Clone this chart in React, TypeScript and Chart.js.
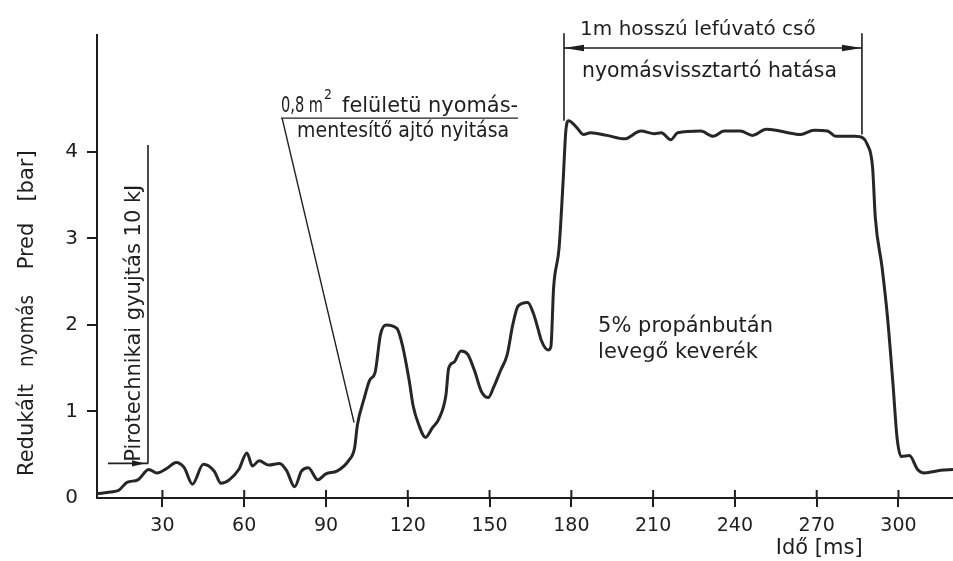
import React, { useEffect, useRef } from "react";
import { Chart, registerables } from "chart.js";

Chart.register(...registerables);

// ---- data (time in ms, reduced pressure in bar) ----
const timeMs = [6, 11, 14, 17, 21, 25, 28, 32, 35, 38, 41, 45, 49, 51.5, 54.5, 58, 61, 63, 65.5, 69, 73, 75.5, 78.5, 81, 83.5, 87, 90, 94, 98.5, 100.5, 101.5, 104, 106, 108, 110, 112, 116, 118, 120.5, 122, 124, 126.5, 129, 131.5, 134, 135, 137, 139.5, 142, 144.5, 147, 149.5, 151.5, 154, 156.5, 158.5, 160.5, 164, 166, 168, 169, 171.5, 172.5, 173.5, 175.5, 177, 178, 179, 182, 184.5, 187, 193, 199.5, 205.5, 210.5, 213, 216.5, 219, 227.5, 232, 236, 242, 246.5, 251.5, 255, 259.5, 264, 269, 274, 277, 284, 287, 288.5, 290.5, 291.5, 294, 296, 298, 299.5, 301, 304, 307, 309.5, 315.5, 320];
const pressureBar = [0.05, 0.07, 0.09, 0.18, 0.21, 0.33, 0.29, 0.35, 0.41, 0.35, 0.16, 0.39, 0.31, 0.17, 0.21, 0.33, 0.52, 0.37, 0.43, 0.38, 0.4, 0.32, 0.13, 0.31, 0.35, 0.21, 0.28, 0.31, 0.44, 0.58, 0.84, 1.15, 1.36, 1.45, 1.89, 2.0, 1.96, 1.77, 1.36, 1.06, 0.85, 0.7, 0.81, 0.92, 1.19, 1.5, 1.57, 1.7, 1.66, 1.47, 1.23, 1.16, 1.28, 1.47, 1.66, 2.0, 2.22, 2.26, 2.14, 1.93, 1.82, 1.71, 1.75, 2.43, 2.89, 3.67, 4.25, 4.36, 4.28, 4.2, 4.22, 4.19, 4.15, 4.24, 4.21, 4.22, 4.14, 4.22, 4.24, 4.18, 4.24, 4.24, 4.19, 4.26, 4.25, 4.22, 4.2, 4.25, 4.24, 4.18, 4.18, 4.16, 4.09, 3.82, 3.24, 2.66, 2.08, 1.31, 0.69, 0.48, 0.49, 0.33, 0.29, 0.32, 0.33];

const xTickValues = [30, 60, 90, 120, 150, 180, 210, 240, 270, 300];
const yTickValues = [0, 1, 2, 3, 4];

const xMin = 6;
const xMax = 320;
const yMin = 0;
const yMax = 5.35;

// ---- texts ----
const yTitleWords = ["Redukált", "nyomás", "Pred", "[bar]"];
const xTitle = "Idő [ms]";
const ignitionLabel = "Pirotechnikai gyujtás 10 kJ";
const doorLabelA = "0,8 m";
const doorLabelSup = "2";
const doorLabelB = "felületü nyomás-";
const doorLabel2 = "mentesítő ajtó nyitása";
const pipeLabel1 = "1m hosszú lefúvató cső";
const pipeLabel2 = "nyomásvissztartó hatása";
const mixLabel1 = "5% propánbután";
const mixLabel2 = "levegő keverék";

const FONT = '"DejaVu Sans", "Liberation Sans", sans-serif';
const INK = "#1e1e1e";

function drawLine(ctx: CanvasRenderingContext2D, x1: number, y1: number, x2: number, y2: number) {
  ctx.beginPath();
  ctx.moveTo(x1, y1);
  ctx.lineTo(x2, y2);
  ctx.stroke();
}

function arrowHead(ctx: CanvasRenderingContext2D, tx: number, ty: number, dx: number, dy: number, len: number, half: number) {
  const bx = tx - dx * len;
  const by = ty - dy * len;
  const px = -dy;
  const py = dx;
  ctx.beginPath();
  ctx.moveTo(tx, ty);
  ctx.lineTo(bx + px * half, by + py * half);
  ctx.lineTo(bx - px * half, by - py * half);
  ctx.closePath();
  ctx.fill();
}

function vText(ctx: CanvasRenderingContext2D, text: string, x: number, y: number, size: number, maxW: number) {
  ctx.save();
  ctx.translate(x, y);
  ctx.rotate(-Math.PI / 2);
  ctx.font = `${size}px ${FONT}`;
  ctx.textAlign = "center";
  ctx.textBaseline = "alphabetic";
  ctx.fillText(text, 0, 0, maxW);
  ctx.restore();
}

function hText(ctx: CanvasRenderingContext2D, text: string, x: number, y: number, size: number, maxW: number) {
  ctx.font = `${size}px ${FONT}`;
  ctx.textAlign = "left";
  ctx.textBaseline = "alphabetic";
  ctx.fillText(text, x, y, maxW);
}

const annotationPlugin = {
  id: "figureAnnotations",
  afterDraw(chart: any) {
    const { ctx, chartArea, scales } = chart;
    const X = (v: number) => scales.x.getPixelForValue(v);
    const Y = (v: number) => scales.y.getPixelForValue(v);
    ctx.save();
    ctx.strokeStyle = INK;
    ctx.fillStyle = INK;
    ctx.lineCap = "butt";

    // inner half of the x tick marks (ticks cross the axis)
    ctx.lineWidth = 2;
    xTickValues.forEach((v) => drawLine(ctx, X(v), chartArea.bottom - 8, X(v), chartArea.bottom));

    // y axis title (rotated, word by word)
    const yTitleX = chartArea.left - 64;
    const wordOffsets = [68, 167, 252, 322];
    const wordWidths = [100, 72, 50, 55];
    yTitleWords.forEach((w, i) => vText(ctx, w, yTitleX, chartArea.bottom - wordOffsets[i], 21, wordWidths[i]));

    // x axis title
    hText(ctx, xTitle, X(255), chartArea.bottom + 56, 21, 100);

    // ignition marker
    ctx.lineWidth = 1.6;
    drawLine(ctx, X(24.7), Y(4.08), X(24.7), Y(0.4));
    drawLine(ctx, X(10), Y(0.4), X(24.7), Y(0.4));
    arrowHead(ctx, X(23.6), Y(0.4), 1, 0, 13, 3.2);
    vText(ctx, ignitionLabel, X(21.6), Y(2.02), 22, 277);

    // door opening annotation
    hText(ctx, doorLabelA, X(73.5), Y(4.46), 21, 42);
    hText(ctx, doorLabelSup, X(89.3), Y(4.61), 14, 8);
    hText(ctx, doorLabelB, X(95.9), Y(4.46), 21, 176);
    ctx.lineWidth = 1.4;
    drawLine(ctx, X(73.5), Y(4.39), X(160.4), Y(4.39));
    drawLine(ctx, X(73.9), Y(4.39), X(100.3), Y(0.87));
    hText(ctx, doorLabel2, X(79.4), Y(4.17), 21, 212);

    // blow-off pipe bracket
    ctx.lineWidth = 1.6;
    drawLine(ctx, X(177.3), Y(5.37), X(177.3), Y(4.36));
    drawLine(ctx, X(286.6), Y(5.37), X(286.6), Y(4.2));
    drawLine(ctx, X(177.3), Y(5.2), X(286.6), Y(5.2));
    arrowHead(ctx, X(177.3), Y(5.2), -1, 0, 20, 3.2);
    arrowHead(ctx, X(286.6), Y(5.2), 1, 0, 20, 3.2);
    hText(ctx, pipeLabel1, X(183.2), Y(5.35), 20, 247);
    hText(ctx, pipeLabel2, X(183.9), Y(4.86), 21, 255);

    // mixture label
    hText(ctx, mixLabel1, X(189.8), Y(1.92), 21, 180);
    hText(ctx, mixLabel2, X(189.8), Y(1.62), 21, 163);

    ctx.restore();
  },
};

export default function App() {
  const canvasRef = useRef<HTMLCanvasElement | null>(null);

  useEffect(() => {
    const canvas = canvasRef.current;
    if (!canvas) return;
    const points = timeMs.map((t, i) => ({ x: t, y: pressureBar[i] }));
    const chart = new Chart(canvas, {
      type: "line",
      data: {
        datasets: [
          {
            data: points,
            borderColor: "#262626",
            borderWidth: 3,
            pointRadius: 0,
            fill: false,
            cubicInterpolationMode: "monotone",
          },
        ],
      },
      options: {
        animation: false,
        responsive: false,
        events: [],
        layout: { padding: { top: 35, right: 0, left: 0, bottom: 0 } },
        plugins: { legend: { display: false }, tooltip: { enabled: false }, title: { display: false } },
        scales: {
          x: {
            type: "linear",
            min: xMin,
            max: xMax,
            afterBuildTicks: (s: any) => {
              s.ticks = xTickValues.map((v) => ({ value: v }));
            },
            afterFit: (s: any) => {
              s.height = 63;
            },
            grid: { display: true, drawOnChartArea: false, drawTicks: true, tickLength: 9, color: INK, tickColor: INK, lineWidth: 2, tickWidth: 2 },
            border: { display: true, color: INK, width: 2 },
            ticks: { font: { family: FONT, size: 19 }, color: INK, padding: 8, maxRotation: 0, autoSkip: false },
          },
          y: {
            type: "linear",
            min: yMin,
            max: yMax,
            afterBuildTicks: (s: any) => {
              s.ticks = yTickValues.map((v) => ({ value: v }));
            },
            afterFit: (s: any) => {
              s.width = 97;
            },
            grid: {
              display: true,
              drawOnChartArea: false,
              drawTicks: true,
              tickLength: 10,
              color: (c: any) => (c.tick && c.tick.value === 0 ? "rgba(0,0,0,0)" : INK),
              tickColor: (c: any) => (c.tick && c.tick.value === 0 ? "rgba(0,0,0,0)" : INK),
              lineWidth: 2,
              tickWidth: 2,
            },
            border: { display: true, color: INK, width: 2 },
            ticks: { font: { family: FONT, size: 20 }, color: INK, padding: 9, autoSkip: false },
          },
        },
      },
      plugins: [annotationPlugin],
    } as any);
    return () => chart.destroy();
  }, []);

  return (
    <div style={{ position: "absolute", left: 0, top: 0, width: 953, height: 561, background: "#ffffff" }}>
      <canvas ref={canvasRef} width={953} height={561} style={{ width: 953, height: 561, display: "block" }} />
    </div>
  );
}
